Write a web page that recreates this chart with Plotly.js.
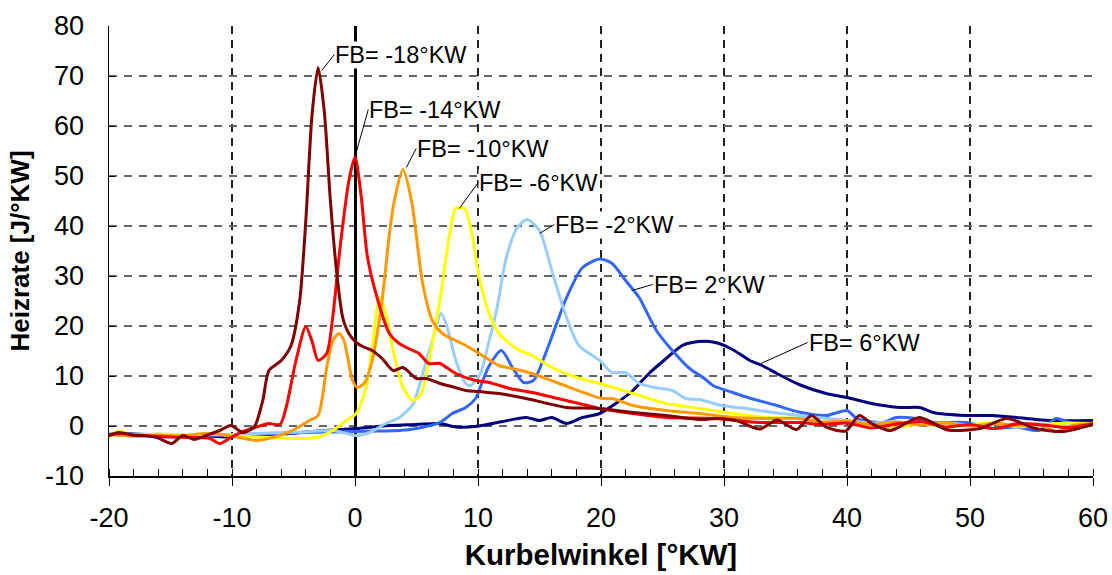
<!DOCTYPE html>
<html>
<head>
<meta charset="utf-8">
<script src="https://cdn.plot.ly/plotly-3.0.1.min.js"></script>
<style>html,body{margin:0;padding:0;background:#fff;}#chart{width:1112px;height:575px;}</style>
</head>
<body>
<div id="chart"></div>
<script>
// Series names / labels
const seriesNames = ["FB= -18°KW", "FB= -14°KW", "FB= -10°KW", "FB= -6°KW", "FB= -2°KW", "FB= 2°KW", "FB= 6°KW"];
const seriesColors = ["#800000", "#ff0000", "#ff9900", "#ffff00", "#99ccff", "#3366ff", "#000080"];

// Tick values / labels (plain hyphen as in the original)
const xTickVals = [-20, -10, 0, 10, 20, 30, 40, 50, 60];
const xTickText = ["-20", "-10", "0", "10", "20", "30", "40", "50", "60"];
const yTickVals = [-10, 0, 10, 20, 30, 40, 50, 60, 70, 80];
const yTickText = ["-10", "0", "10", "20", "30", "40", "50", "60", "70", "80"];

// FB = -18°KW
const x_m18 = [-20,-19.2,-18,-17.3,-16.1,-14.9,-14.0,-13.1,-12.1,-11.0,-10.1,-9.1,-8.2,-7.5,-7.0,-6.0,-5.2,-4.5,-4.0,-3.5,-3.0,-2.5,-2.0,-1.5,-1.0,-0.5,0.1,0.7,1.4,2.2,3.1,3.9,5.0,5.8,6.9,8.0,9.0,10.5,11.7,13.9,15.5,17.2,19.9,22.6,25.3,28,29.6,31,32.9,34.3,35.9,37.1,38.3,39.9,41,42,43.5,45.9,48.2,50.8,53,55.3,57.6,60];
const y_m18 = [-1.9,-1.3,-1.8,-1.9,-2.3,-3.5,-1.9,-2.7,-1.9,-0.9,0.1,-1.3,-0.2,5.1,11.1,13.1,16.1,25,41,62,71.7,63,45,31,21.7,18.5,16.7,15.8,15.1,13.5,11.1,11.7,9.5,9.5,8.5,7.8,7.1,6.8,6.5,5.5,4.6,3.7,3.5,2.7,2.1,1.3,1.5,1.1,-0.6,1.2,-0.7,2.1,-0.2,-1.0,2.1,0.5,-0.9,1.7,-0.8,-0.5,1.5,-0.5,-1.1,0.3];

// FB = -14°KW
const x_m14 = [-20,-19,-18,-16.5,-15,-13.2,-11.8,-11.0,-10.1,-9.0,-8.0,-7.0,-6.1,-5.6,-4.8,-4.0,-3.5,-3.0,-2.3,-1.8,-1.2,-0.5,0.0,0.5,1.0,1.7,2.8,3.6,4.7,5.2,6.0,6.9,8.2,9.8,10.9,12.6,14.4,17.2,19.9,22.6,25.3,29.3,32.9,36.1,38,40,42,44,46,48,50,52,54,56,58,60];
const y_m14 = [-1.8,-1.5,-1.9,-2.0,-2.2,-2.3,-2.5,-3.5,-2.3,-1.0,-0.2,0.5,0.3,3.7,13.1,19.9,17,13.1,14.5,22,36,49,53.8,46,34,26.5,18.5,16.5,15.1,14.5,12.5,12.5,10.5,9.1,8.7,7.5,6.7,5.1,3.5,2.5,1.7,1.5,0.7,0.7,0.3,0.6,-0.4,0.4,0.9,-0.2,0.3,-0.5,0.5,0.2,-0.3,0.5];

// FB = -10°KW
const x_m10 = [-20,-18,-16,-14,-12.3,-10.5,-9.4,-8.0,-6.7,-5.1,-3.7,-3.0,-2.3,-1.8,-1.3,-0.9,-0.2,0.2,0.8,1.4,2.2,2.8,3.2,3.9,4.6,5.5,6.3,7.1,8.7,10.1,11.7,12.8,14.4,16.6,18.8,20.1,20.9,22.6,25.3,28,30.7,33.4,36.1,38,40,42,44,46,48,50,52,54,55.5,57,58.5,60];
const y_m10 = [-1.7,-2.0,-1.8,-2.0,-1.5,-1.8,-2.3,-2.9,-2.3,-0.9,1.1,2.1,11.7,17.1,18.5,17.1,9.1,7.7,8.7,13.1,25.1,38.5,45.1,51.3,45,28.5,21,18.5,16.5,14.5,12.1,11.5,10.5,8.5,6.5,5.5,5.5,4.1,3.1,2.5,1.7,1.5,1.5,0.8,1.0,0.3,0.8,0.2,0.6,0.0,0.5,0.1,0.4,-1.1,0.2,0.4];

// FB = -6°KW
const x_m6 = [-20,-19.2,-18.1,-16,-14,-12,-10,-8,-6,-4.5,-3.1,-1.8,-0.7,0.1,0.9,1.4,2.0,2.5,3.1,3.9,4.7,5.4,5.9,6.9,7.7,8.2,8.9,9.5,10.1,10.9,11.7,13.1,14.4,16.0,18.0,19.9,22.6,25.3,28,30.7,33.4,36.1,38,40,42,44,46,48,50,52,54,56,58,60];
const y_m6 = [-2.3,-1.0,-1.9,-1.6,-1.8,-1.6,-1.9,-2.2,-2.4,-2.5,-2.3,-0.9,1.1,2.5,7.7,15.7,25.7,22.5,15.1,7.7,5.1,6.5,11.7,25.1,38.5,43.5,43.5,38.5,29.7,22.5,18.5,15.5,14.1,11.7,9.7,8.5,6.5,4.5,3.5,2.5,1.7,1.5,0.5,0.8,0.2,-0.3,0.5,-0.2,0.3,0.6,0.0,0.3,0.6,0.5];

// FB = -2°KW
const x_m2 = [-20,-18,-16,-14,-12,-10,-8,-6,-4,-1.8,0.1,1.2,2.5,3.6,4.7,5.5,6.3,7.0,7.5,8.2,9.0,9.4,10.2,10.8,11.5,12.3,13.2,14.0,15.0,16.0,17.2,18.2,19.9,20.9,22.0,23.1,24.4,25.8,26.9,28,29.8,31.8,34,36.1,38,40,42,44,46,48,50,52,54,56,58,60];
const y_m2 = [-1.5,-1.7,-1.6,-1.8,-1.8,-1.7,-1.5,-1.3,-1.2,-0.9,-1.9,-1.3,0.5,1.7,4.3,10.5,17.1,22.5,19.7,13.1,8.5,8.1,10.5,16,23,33.7,39.7,41.3,39.1,31.1,21.7,16.1,13.1,10.7,10.7,8.5,7.7,7.1,5.5,5.3,4.1,3.5,2.7,2.1,1.6,1.1,0.6,0.9,0.3,0.6,0.2,0.5,-0.2,0.4,0.0,0.6];

// FB = 2°KW
const x_p2 = [-20,-18,-16,-14,-12,-10,-8,-6,-4,-2,0,2,3.6,5.0,6.9,7.9,9.0,9.8,10.3,10.9,11.9,12.8,13.7,14.5,15.8,17.2,18.5,19.9,20.9,22.0,23.1,24.5,25.8,27.2,28.4,29.1,30.7,32.2,34,36.1,38.3,40,40.8,42.9,44,45.6,47,49.7,51.8,53.8,55.6,57,58.3,60];
const y_p2 = [-1.6,-1.8,-1.7,-1.9,-1.8,-1.7,-1.6,-1.5,-1.3,-1.2,-1.1,-1.0,-0.9,-0.5,0.7,2.5,3.7,5.5,8.5,12,15.1,11.7,8.7,9.1,16.5,25.7,31.7,33.4,32.5,29.1,25.7,19.1,15.1,11.5,9.5,8.1,6.7,5.5,4.3,2.8,2.1,3.1,1.5,0.7,1.7,1.5,0.7,0.7,-0.5,-0.2,-0.9,1.5,0.5,0.5];

// FB = 6°KW
const x_p6 = [-20,-18,-16,-14,-12,-10,-8,-5.3,-3,0.1,2.8,5,6.9,8.2,10.1,12.0,13.9,15.0,16.0,17.2,18.5,19.9,21.2,22.6,23.9,25.3,26.6,27.4,28.8,29.6,30.7,32.1,33.1,34.3,36.1,38.3,40,42,44.3,45.9,47,49.7,51.8,53.8,56.5,60];
const y_p6 = [-1.5,-1.6,-1.8,-1.9,-2.0,-2.2,-1.8,-1.5,-1.0,-0.5,0.1,0.3,0.5,-0.2,0.0,0.9,1.7,1.1,1.7,0.5,1.7,2.5,4.5,7.1,10.5,13.5,16.1,16.7,16.9,16.5,15.3,13.1,12.1,10.5,8.3,6.5,5.7,4.5,3.7,3.7,2.7,2.1,2.1,1.7,1.1,1.1];

const xs = [x_m18, x_m14, x_m10, x_m6, x_m2, x_p2, x_p6];
const ys = [y_m18, y_m14, y_m10, y_m6, y_m2, y_p2, y_p6];

// Label anchor points: tip on curve and text position (data units)
const tipX = [-2.7, 0.1, 4.17, 8.48, 15.0, 22.5, 33.0];
const tipY = [71.1, 54.7, 51.7, 43.5, 38.5, 27.1, 12.5];
const txtX = [-1.68, 1.08, 4.98, 10.02, 16.2, 24.2, 36.8];
const txtY = [74.3, 63.3, 55.5, 48.7, 40.3, 28.3, 16.7];

const xTitle = "Kurbelwinkel [°KW]";
const yTitle = "Heizrate [J/°KW]";

const FONT = "Liberation Sans, Arial, sans-serif";

// draw navy first, dark red last (on top)
const order = [6,5,4,3,2,1,0];
const traces = order.map(i => ({
  type: "scatter", mode: "lines",
  x: xs[i], y: ys[i], name: seriesNames[i],
  line: {color: seriesColors[i], width: 3, shape: "spline", smoothing: 0.7},
  hoverinfo: "skip"
}));

const annotations = seriesNames.map((t, i) => ({
  text: t, x: tipX[i], y: tipY[i], xref: "x", yref: "y",
  ax: txtX[i], ay: txtY[i], axref: "x", ayref: "y",
  xanchor: "left", yanchor: "middle",
  showarrow: true, arrowhead: 0, arrowwidth: 1, arrowcolor: "#000",
  bgcolor: "#fff", borderpad: 0,
  font: {family: FONT, size: 23.5, color: "#000"}
}));

const layout = {
  width: 1112, height: 575,
  margin: {l: 109, r: 19, t: 26, b: 99},
  paper_bgcolor: "#fff", plot_bgcolor: "#fff",
  showlegend: false,
  font: {family: FONT, color: "#000"},
  xaxis: {
    range: [-20, 60], tickmode: "array", tickvals: xTickVals, ticktext: xTickText,
    showline: true, linecolor: "#000", linewidth: 1.5,
    ticks: "outside", ticklen: 8, tickwidth: 1, tickcolor: "#000",
    minor: {dtick: 2, tick0: 0, ticks: "inside", ticklen: 7, tickwidth: 1, tickcolor: "#000", showgrid: false},
    showgrid: true, gridcolor: "#222", gridwidth: 1.2, griddash: "8px,6px",
    zeroline: true, zerolinecolor: "#000", zerolinewidth: 3,
    tickfont: {family: FONT, size: 27, color: "#000"},
    ticklabelstandoff: 9,
    title: {text: xTitle, font: {family: FONT, size: 29.5, color: "#000", weight: "bold"}, standoff: 12},
    automargin: false, fixedrange: true
  },
  yaxis: {
    range: [-10, 80], tickmode: "array", tickvals: yTickVals, ticktext: yTickText,
    showline: true, linecolor: "#000", linewidth: 1.5,
    ticks: "inside", ticklen: 6, tickwidth: 1, tickcolor: "#000",
    showgrid: true, gridcolor: "#666", gridwidth: 1.8, griddash: "8px,7px",
    zeroline: false,
    tickfont: {family: FONT, size: 27, color: "#000"},
    ticklabelstandoff: 18,
    title: {text: yTitle, font: {family: FONT, size: 26, color: "#000", weight: "bold"}, standoff: 8},
    automargin: false, fixedrange: true
  },
  annotations: annotations
};

Plotly.newPlot("chart", traces, layout, {staticPlot: true, displayModeBar: false});
</script>
</body>
</html>
